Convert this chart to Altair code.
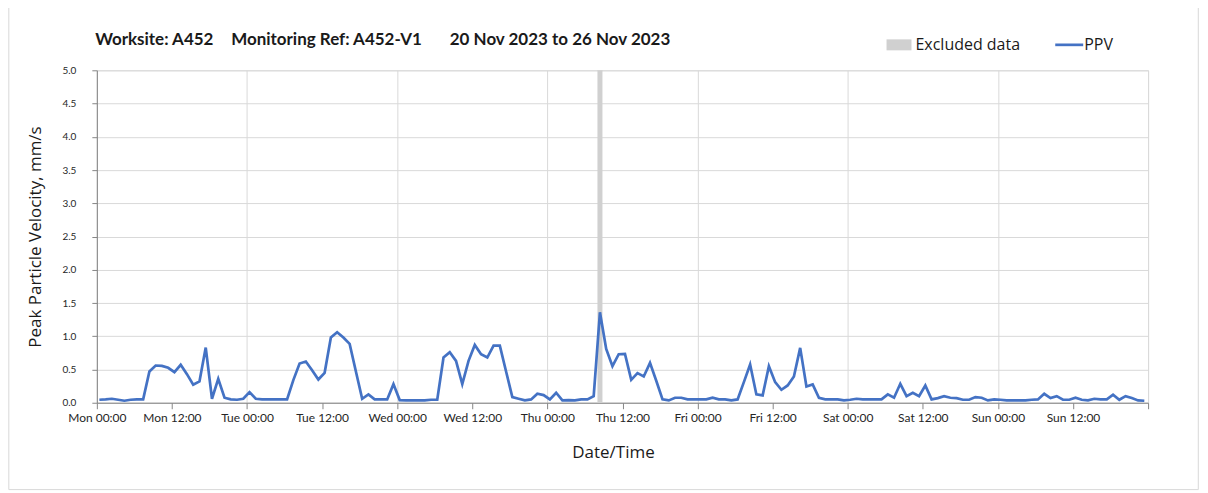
import altair as alt
import pandas as pd

# ---- data (hourly PPV, mm/s, Mon 00:00 .. Sun 23:00) ----
DAYS = ["Mon", "Tue", "Wed", "Thu", "Fri", "Sat", "Sun"]
SAMPLE_OFFSET_H = 0.4  # samples sit slightly after the hour mark

mon = [0.045, 0.05, 0.06, 0.045, 0.03, 0.045, 0.05, 0.05, 0.47, 0.56, 0.555, 0.525,
       0.46, 0.57, 0.43, 0.27, 0.32, 0.83, 0.06, 0.36, 0.075, 0.05, 0.045, 0.06]
tue = [0.16, 0.06, 0.05, 0.05, 0.05, 0.05, 0.05, 0.34, 0.59, 0.62, 0.49, 0.35,
       0.45, 0.98, 1.06, 0.98, 0.885, 0.47, 0.06, 0.125, 0.05, 0.05, 0.05, 0.28]
wed = [0.04, 0.035, 0.035, 0.035, 0.035, 0.045, 0.045, 0.68, 0.76, 0.63, 0.28, 0.63,
       0.87, 0.73, 0.68, 0.86, 0.86, 0.47, 0.085, 0.06, 0.035, 0.05, 0.135, 0.115]
thu = [0.05, 0.15, 0.035, 0.04, 0.035, 0.05, 0.05, 0.1, 1.36, 0.81, 0.55, 0.73,
       0.735, 0.345, 0.445, 0.395, 0.6, 0.33, 0.05, 0.035, 0.075, 0.075, 0.05, 0.05]
fri = [0.05, 0.05, 0.075, 0.05, 0.05, 0.035, 0.05, 0.31, 0.575, 0.125, 0.11, 0.55,
       0.31, 0.195, 0.26, 0.395, 0.825, 0.245, 0.275, 0.075, 0.05, 0.05, 0.05, 0.035]
sat = [0.045, 0.06, 0.05, 0.05, 0.05, 0.05, 0.125, 0.075, 0.285, 0.1, 0.15, 0.1,
       0.26, 0.05, 0.07, 0.1, 0.075, 0.07, 0.045, 0.045, 0.085, 0.075, 0.035, 0.05]
sun = [0.045, 0.035, 0.035, 0.035, 0.035, 0.045, 0.05, 0.135, 0.07, 0.1, 0.045, 0.045,
       0.075, 0.045, 0.035, 0.06, 0.05, 0.05, 0.12, 0.045, 0.1, 0.07, 0.035, 0.03]

ppv = mon + tue + wed + thu + fri + sat + sun
hours = [i + SAMPLE_OFFSET_H for i in range(len(ppv))]

excluded_start = [80.0]
excluded_end = [80.8]

tick_hours = list(range(0, 169, 12))
y_ticks = [0.0, 0.5, 1.0, 1.5, 2.0, 2.5, 3.0, 3.5, 4.0, 4.5, 5.0]

title_parts = ["Worksite: A452", "Monitoring Ref: A452-V1", "20 Nov 2023 to 26 Nov 2023"]
title_px = [-1.7, 134.5, 353.5]
legend_labels = ["Excluded data", "PPV"]
legend_px = [820, 989]

LINE_BLUE = "#4472C4"
BAND_GREY = "#D0D0D0"
FONT = "Lato"
FONT2 = "Open Sans"
W, H = 1053, 333

df = pd.DataFrame({"hour": hours, "ppv": ppv})
band_df = pd.DataFrame({"start": excluded_start, "end": excluded_end})

day_array = "[" + ",".join(f"'{d}'" for d in DAYS) + "]"
label_expr = (f"datum.value >= 168 ? '' : {day_array}[floor(datum.value/24)] + "
              "(datum.value % 24 == 0 ? ' 00:00' : ' 12:00')")

x_enc = alt.X(
    "hour:Q",
    scale=alt.Scale(domain=[0, 168], nice=False, zero=False),
    axis=alt.Axis(
        values=tick_hours,
        labelExpr=label_expr,
        title="Date/Time",
        titleFont=FONT2,
        titleFontSize=17,
        titleFontWeight="normal",
        titleColor="#1a1a1a",
        titlePadding=21,
        titleX=517,
        labelFont=FONT,
        labelFontSize=12,
        labelColor="#262626",
        labelPadding=4,
        tickSize=6,
        tickColor="#868686",
        domainColor="#868686",
        gridColor="#D9D9D9",
        gridOpacity={"condition": {"test": "datum.value % 24 == 0", "value": 1}, "value": 0},
        labelFlush=False,
        labelOverlap=False,
    ),
)

y_enc = alt.Y(
    "ppv:Q",
    scale=alt.Scale(domain=[0, 5], nice=False),
    axis=alt.Axis(
        values=y_ticks,
        format=".1f",
        title="Peak Particle Velocity, mm/s",
        titleFont=FONT2,
        titleFontSize=17,
        titleFontWeight="normal",
        titleColor="#1a1a1a",
        titlePadding=17,
        labelFont=FONT,
        labelFontSize=10,
        labelColor="#262626",
        labelPadding=16,
        tickSize=5,
        tickColor="#868686",
        domainColor="#868686",
        gridColor="#D9D9D9",
    ),
)

band = alt.Chart(band_df).mark_rect(color=BAND_GREY).encode(
    x=alt.X("start:Q", scale=alt.Scale(domain=[0, 168], nice=False, zero=False)),
    x2="end:Q",
    y=alt.value(0),
    y2=alt.value(H),
)

line = alt.Chart(df).mark_line(color=LINE_BLUE, strokeWidth=2.7, strokeJoin="miter").encode(
    x=x_enc, y=y_enc
)

# title (three bold pieces)
title = alt.Chart(pd.DataFrame({"t": title_parts, "px": title_px})).mark_text(
    align="left", baseline="middle", font=FONT, fontSize=17, fontWeight="bold", color="#1a1a1a"
).encode(x=alt.X("px:Q", scale=None), y=alt.value(-30), text="t:N")

# manual legend
leg_rect = alt.Chart(pd.DataFrame({"k": ["Excluded data"]})).mark_rect(color=BAND_GREY).encode(
    x=alt.value(791), x2=alt.value(816), y=alt.value(-31), y2=alt.value(-20)
)
leg_line = alt.Chart(pd.DataFrame({"k": ["PPV"]})).mark_rule(color=LINE_BLUE, strokeWidth=2.7).encode(
    x=alt.value(960), x2=alt.value(988), y=alt.value(-25.5)
)
leg_text = alt.Chart(pd.DataFrame({"label": legend_labels, "px": legend_px})).mark_text(
    align="left", baseline="middle", font=FONT2, fontSize=16, color="#1a1a1a"
).encode(x=alt.X("px:Q", scale=None), y=alt.value(-25.5), text="label:N")

# light chart-area border
frame = alt.Chart(pd.DataFrame({"k": ["frame"]})).mark_rect(
    fill=None, stroke="#D9D9D9", strokeWidth=1
).encode(x=alt.value(-88.2), x2=alt.value(1103.3), y=alt.value(-90), y2=alt.value(420))

chart = alt.layer(frame, band, line, title, leg_rect, leg_line, leg_text).properties(
    width=W,
    height=H,
    autosize=alt.AutoSizeParams(type="none"),
    padding={"left": 89, "top": 62, "right": 52, "bottom": 89},
).configure_view(stroke=None).configure(background="white")

chart.save("out.html", embed_options={"renderer": "svg", "actions": False})
